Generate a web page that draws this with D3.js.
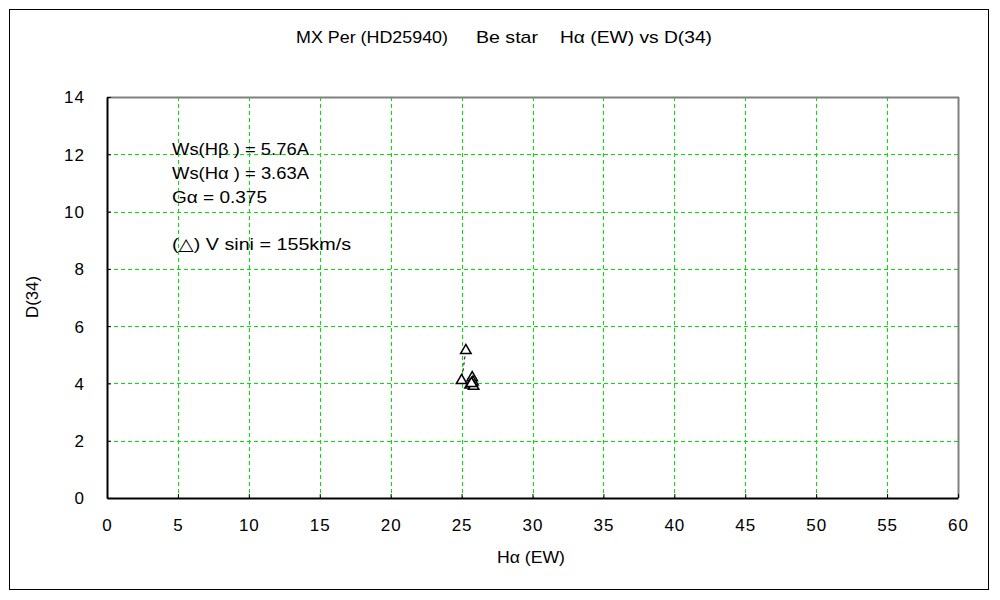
<!DOCTYPE html>
<html><head><meta charset="utf-8">
<script src="https://cdn.jsdelivr.net/npm/d3@7"></script>
<style>
body{margin:0;background:#fff;}
text{font-family:"Liberation Sans","DejaVu Sans",sans-serif;fill:#000;}
</style></head>
<body><svg id="c" width="1000" height="600"></svg>
<script>
// ---- data ----
const haEW = [25.3, 25.0, 25.75, 25.8, 25.6, 25.85, 25.7];
const d34  = [5.15, 4.1, 4.2, 4.05, 3.95, 3.9, 4.0];
const xTicks = [0,5,10,15,20,25,30,35,40,45,50,55,60];
const yTicks = [0,2,4,6,8,10,12,14];
const titleParts = ["MX Per (HD25940)", "Be star", "H\u03b1 (EW) vs D(34)"];
const notes = ["Ws(H\u03b2 ) = 5.76A", "Ws(H\u03b1 ) = 3.63A", "G\u03b1 = 0.375", "", "(\u25b3) V sini = 155km/s"];
const xLabel = "H\u03b1 (EW)";
const yLabel = "D(34)";

const svg = d3.select("#c");
const L=107, R=958, T=97, B=498;
const x = d3.scaleLinear().domain([0,60]).range([L,R]);
const y = d3.scaleLinear().domain([0,14]).range([B,T]);
const FS = 17;

// outer frame
svg.append("rect").attr("x",9.5).attr("y",9.5).attr("width",979).attr("height",580)
  .attr("fill","none").attr("stroke","#000").attr("stroke-width",1);

// grid
const g = svg.append("g");
const gridCol = "#00e600";
g.selectAll(".vx").data(xTicks.filter(d=>d>0&&d<60)).enter().append("line")
  .attr("x1",d=>Math.round(x(d))+0.5).attr("x2",d=>Math.round(x(d))+0.5)
  .attr("y1",T).attr("y2",B)
  .attr("stroke",gridCol).attr("stroke-dasharray","4,3");
g.selectAll(".hy").data(yTicks.filter(d=>d>0&&d<14)).enter().append("line")
  .attr("y1",d=>Math.round(y(d))+0.5).attr("y2",d=>Math.round(y(d))+0.5)
  .attr("x1",L).attr("x2",R)
  .attr("stroke",gridCol).attr("stroke-dasharray","4,3");

// plot border: top/right gray, left/bottom black
svg.append("line").attr("x1",L).attr("x2",R+1).attr("y1",T+0.5).attr("y2",T+0.5).attr("stroke","#808080").attr("stroke-width",2);
svg.append("line").attr("x1",R+0.5).attr("x2",R+0.5).attr("y1",T).attr("y2",B).attr("stroke","#808080").attr("stroke-width",2);

// axes
const xAxis = d3.axisBottom(x).tickValues(xTicks).tickSizeInner(-4).tickSizeOuter(0).tickPadding(21);
const yAxis = d3.axisLeft(y).tickValues(yTicks).tickSizeInner(-4).tickSizeOuter(0).tickPadding(22);
const gx = svg.append("g").attr("transform",`translate(0,${B})`).call(xAxis);
const gy = svg.append("g").attr("transform",`translate(${L},0)`).call(yAxis);
[gx,gy].forEach(a=>{
  a.select(".domain").attr("stroke","#000").attr("stroke-width",2);
  a.selectAll(".tick line").attr("stroke","#000");
  a.selectAll("text").attr("font-size",FS).attr("font-family","Liberation Sans, sans-serif").attr("fill","#000").attr("letter-spacing","1px");
});
gy.selectAll("text").attr("dy","0.35em");

// title
const tx=[296,476,560], tw=[152,62,152];
svg.selectAll(".title").data(titleParts).enter().append("text")
  .attr("x",(d,i)=>tx[i]).attr("y",43)
  .attr("textLength",(d,i)=>tw[i]).attr("lengthAdjust","spacingAndGlyphs")
  .attr("font-size",FS).text(d=>d);

// axis labels
svg.append("text").attr("x",497).attr("y",563).attr("textLength",68).attr("lengthAdjust","spacingAndGlyphs").attr("font-size",FS).text(xLabel);
svg.append("text").attr("transform","translate(38,318) rotate(-90)").attr("textLength",42).attr("lengthAdjust","spacingAndGlyphs").attr("font-size",FS).text(yLabel);

// notes
const nw=[137,137,95,0,179];
svg.selectAll(".note").data(notes).enter().append("text")
  .attr("x",172).attr("y",(d,i)=>155+i*23.8)
  .attr("textLength",(d,i)=>nw[i]||null).attr("lengthAdjust","spacingAndGlyphs")
  .attr("font-size",FS).text(d=>d);

// data line
const pts = haEW.map((v,i)=>[v,d34[i]]);
svg.append("path").datum(pts)
  .attr("d",d3.line().x(d=>x(d[0])).y(d=>y(d[1])))
  .attr("fill","none").attr("stroke","#000").attr("stroke-dasharray","3,3");

// triangles
const tri = d3.symbol().type(d3.symbolTriangle).size(48);
svg.selectAll(".pt").data(pts).enter().append("path")
  .attr("transform",d=>`translate(${x(d[0])},${y(d[1])})`)
  .attr("d",tri).attr("fill","#fff").attr("stroke","#000").attr("stroke-width",1.5);
</script></body></html>
